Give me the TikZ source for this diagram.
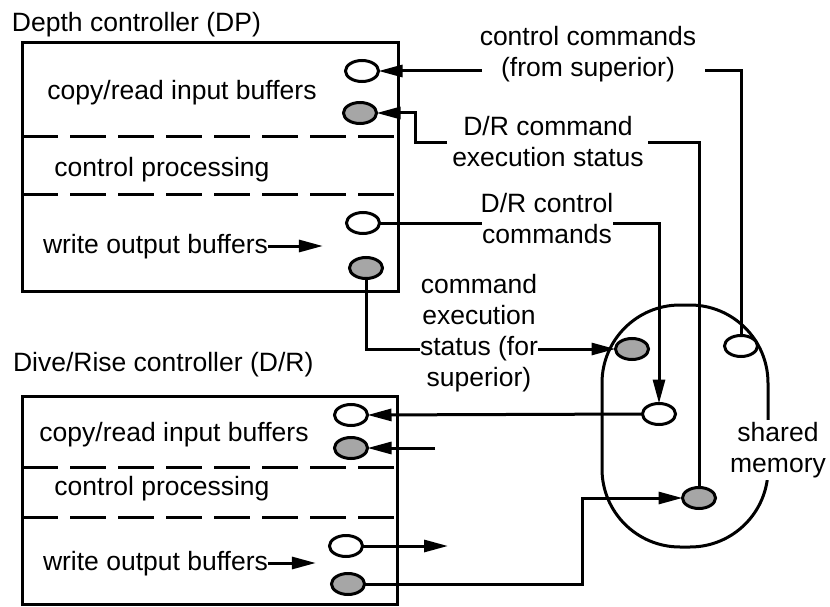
\documentclass[tikz,border=0pt]{standalone}
\usepackage{fontspec}
\setmainfont{Liberation Sans}
\usetikzlibrary{arrows.meta,shapes.geometric,calc}
\begin{document}
\begin{tikzpicture}[x=1pt,y=-1pt,
  every node/.style={inner sep=0pt, outer sep=0pt},
  lbl/.style={font=\fontsize{26.5}{31}\selectfont, align=center},
  line/.style={line width=3pt, line join=miter},
  arr/.style={line, -{Triangle[length=24pt,width=12pt]}},
  port/.style={ellipse, draw, line width=3pt, minimum width=33pt, minimum height=21pt, fill=white},
  sport/.style={port, fill=black!35},
  divider/.style={line width=3pt, dash pattern=on 36pt off 12pt},
  boxnode/.style={draw, line width=3pt, anchor=north west}
]
\useasboundingbox (0,0) rectangle (830,607);

% ---------- Depth controller ----------
\node[lbl, anchor=base west] (dptitle) at (12,32) {Depth controller (DP)};
\node[boxnode, minimum width=376pt, minimum height=248pt] (dp) at (22,43) {};
\draw[divider] (22,137) -- (394,137);
\draw[divider] (22,194) -- (394,194);
\node[lbl, anchor=base] (dpin) at (182,100) {copy/read input buffers};
\node[lbl, anchor=base] (dpcp) at (162,176) {control processing};
\node[lbl, anchor=base west] (dpout) at (43,253) {write output buffers};
\draw[arr] ([yshift=7pt]dpout.base east) -- ++(55,0);
\node[port] (dpa) at (362,71) {};
\node[sport] (dpb) at (360,113) {};
\node[port] (dpc) at (363,223) {};
\node[sport] (dpd) at (366,268) {};

% ---------- Dive/Rise controller ----------
\node[lbl, anchor=base west] (drtitle) at (13,371) {Dive/Rise controller (D/R)};
\node[boxnode, minimum width=375pt, minimum height=208pt] (dr) at (22,396) {};
\draw[divider] (22,467) -- (394,467);
\draw[divider] (22,517) -- (394,517);
\node[lbl, anchor=base] (drin) at (174,441) {copy/read input buffers};
\node[lbl, anchor=base] (drcp) at (162,495) {control processing};
\node[lbl, anchor=base west] (drout) at (43,570) {write output buffers};
\draw[arr] ([yshift=7pt]drout.base east) -- ++(48,0);
\node[port] (dra) at (351,415) {};
\node[sport] (drb) at (351,448) {};
\node[port] (drc) at (346,546) {};
\node[sport] (drd) at (348,584) {};

% ---------- Shared memory ----------
\node[draw, line width=3pt, rounded corners=78pt, minimum width=166pt, minimum height=242pt] (shm) at (685,426) {};
\node[lbl, fill=white, inner sep=2pt, anchor=base] (shmlbl) at (778,472) {shared\\memory};
\node[sport] (sma) at (632,349) {};
\node[port] (smb) at (741,346) {};
\node[port] (smc) at (659,414) {};
\node[sport] (smd) at (699,498) {};

% ---------- Labels (base = last line) ----------
\node[lbl, anchor=base] (lcc) at (588,77) {control commands\\(from superior)};
\node[lbl, anchor=base] (lds) at (548,166) {D/R command\\execution status};
\node[lbl, anchor=base] (ldc) at (547,243) {D/R control\\commands};
\node[lbl, anchor=base] (lces) at (479,386) {command\\execution\\status (for\\superior)};

% ---------- Connectors ----------
\coordinate (cc1) at (705,71);
\coordinate (cc2) at (482,71);
\draw[line] (smb.north) |- (cc1);
\draw[arr] (cc2) -- (dpa.east);

\coordinate (ds1) at (648,143);
\coordinate (ds2) at (447,143);
\coordinate (ds3) at (415,113);
\draw[line] (smd.north) |- (ds1);
\draw[arr] (ds2) -| (ds3) -- (dpb.east);

\coordinate (dc1) at (482,223);
\coordinate (dc2) at (613,223);
\draw[line] (dpc.east) -- (dc1);
\draw[arr] (dc2) -| (smc.north);

\coordinate (cs1) at (420,349);
\coordinate (cs2) at (538,349);
\draw[line] (dpd.south) |- (cs1);
\draw[arr] (cs2) -- (sma.west);

\draw[arr] (smc.west) -- (dra.east);
\coordinate (drbin) at (435,448);
\draw[arr] (drbin) -- (drb.east);
\coordinate (drcout) at (448,546);
\draw[arr] (drc.east) -- (drcout);
\coordinate (bw) at (582,498);
\draw[arr] (drd.east) -| (bw) -- (smd.west);
\end{tikzpicture}
\end{document}
